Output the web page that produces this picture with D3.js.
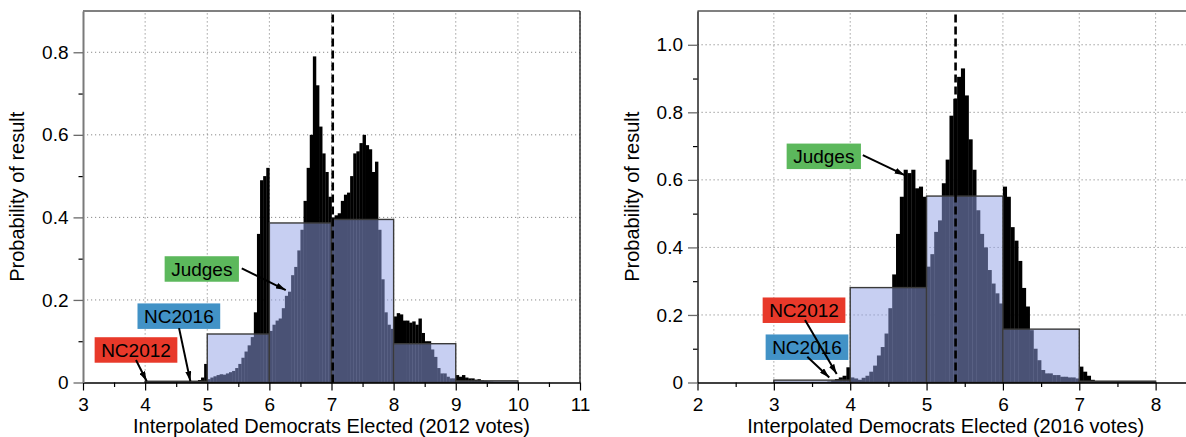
<!DOCTYPE html>
<html><head><meta charset="utf-8">
<script src="https://cdn.jsdelivr.net/npm/d3@7"></script>
<style>
body{margin:0;background:#fff;}
text{font-family:"Liberation Sans",Arial,Helvetica,sans-serif;}
</style></head><body>
<svg id="c" width="1186" height="437"></svg>
<script>
// ---------------- DATA ----------------
const binWidth = 0.05;

// Left panel (2012 votes)
const leftFineStart = 4.80;
const leftFine = [
  0.003,0.006,0.012,0.045,
  0.008,0.012,0.015,0.018,0.020,0.019,0.022,0.025,0.028,0.035,
  0.045,0.060,0.075,0.090,0.110,0.170,0.360,0.490,0.500,0.520,
  0.125,0.140,0.150,0.155,0.180,0.210,0.220,0.260,0.280,0.320,
  0.370,0.440,0.520,0.600,0.790,0.720,0.620,0.555,0.510,0.450,
  0.400,0.405,0.410,0.440,0.455,0.460,0.500,0.555,0.560,0.580,
  0.600,0.575,0.565,0.510,0.535,0.370,0.250,0.170,0.140,0.130,
  0.160,0.168,0.165,0.150,0.150,0.145,0.148,0.140,0.155,0.120,
  0.100,0.100,0.080,0.062,0.035,0.022,0.022,0.014,0.010,0.010,
  0.018,0.014,0.018,0.012,0.010,0.010,0.007,0.008,0.005,0.004,
  0.003,0.002
];
const leftBins = [4,5,6,7,8,9];
const leftCoarse = [0.003,0.1175,0.3865,0.395,0.094,0.004];
const leftMean = 7.02;
const leftXTicks = [3,4,5,6,7,8,9,10,11];
const leftYTicks = [0,0.2,0.4,0.6,0.8];
const leftXTitle = "Interpolated Democrats Elected (2012 votes)";

// Right panel (2016 votes)
const rightFineStart = 3.70;
const rightFine = [
  0.003,0.006,0.010,0.015,0.020,0.045,
  0.015,0.012,0.008,0.014,0.020,0.032,0.050,0.080,0.105,0.145,
  0.220,0.320,0.440,0.550,0.630,0.620,0.630,0.575,0.580,0.550,
  0.343,0.380,0.446,0.480,0.590,0.660,0.790,0.840,0.905,0.930,
  0.850,0.720,0.630,0.510,0.440,0.400,0.333,0.293,0.264,0.234,
  0.580,0.550,0.460,0.420,0.360,0.280,0.225,0.155,0.100,0.066,
  0.037,0.027,0.027,0.022,0.022,0.017,0.017,0.015,0.015,0.012,
  0.047,0.032,0.020,0.008,0.004,0.003,0.002,0.002,0.002
];
const rightBins = [3,4,5,6,7];
const rightCoarse = [0.007,0.281,0.552,0.158,0.004];
const rightMean = 5.38;
const rightXTicks = [2,3,4,5,6,7,8];
const rightYTicks = [0,0.2,0.4,0.6,0.8,1.0];
const rightXTitle = "Interpolated Democrats Elected (2016 votes)";

const yTitle = "Probability of result";

// annotations: label, box centre (data), arrow tail offset from box centre (px), target (data)
const leftNotes = [
  {label:"Judges", color:"#5cb85c", cx:4.912, cy:0.275, tx:40, ty:-0.6, px:6.264, py:0.224},
  {label:"NC2016", color:"#4292c6", cx:4.543, cy:0.1607, tx:0.2, ty:12, px:4.728, py:0.003},
  {label:"NC2012", color:"#e8392a", cx:3.853, cy:0.0788, tx:0, ty:10, px:4.025, py:0.003}
];
const rightNotes = [
  {label:"Judges", color:"#5cb85c", cx:3.654, cy:0.6697, tx:39, ty:-1.2, px:4.714, py:0.614},
  {label:"NC2016", color:"#4292c6", cx:3.434, cy:0.1045, tx:0.3, ty:9.5, px:3.726, py:0.015},
  {label:"NC2012", color:"#e8392a", cx:3.395, cy:0.214, tx:1, ty:9.8, px:3.823, py:0.025}
];

// ---------------- DRAW ----------------
const svg = d3.select("#c");
const defs = svg.append("defs");
defs.append("marker").attr("id","ah").attr("viewBox","0 0 10 6")
  .attr("refX",10).attr("refY",3).attr("markerWidth",10).attr("markerHeight",6)
  .attr("markerUnits","userSpaceOnUse").attr("orient","auto")
  .append("path").attr("d","M0,0L10,3L0,6Z").attr("fill","#000");

const FONT = 19;

function panel(cfg){
  const g = svg.append("g");
  const x = d3.scaleLinear().domain(cfg.xDomain).range(cfg.xRange);
  const y = d3.scaleLinear().domain([0,cfg.yMax]).range([382.5, 11]);
  const [X0,X1] = cfg.xRange;
  const Y0 = y(0), Y1 = y(cfg.yMax);

  // grid
  const grid = g.append("g").attr("stroke","#8a8a8a").attr("stroke-width",1).attr("stroke-dasharray","1.2,2.8");
  cfg.xTicks.filter(t=>t>cfg.xDomain[0]).forEach(t=>{
    grid.append("line").attr("x1",x(t)).attr("x2",x(t)).attr("y1",Y0).attr("y2",Y1);
  });
  cfg.yTicks.filter(t=>t>0).forEach(t=>{
    grid.append("line").attr("x1",X0).attr("x2",X1).attr("y1",y(t)).attr("y2",y(t));
  });

  // fine histogram (black)
  const fine = cfg.fine.map((v,i)=>({x0: cfg.fineStart + i*binWidth, v}));
  g.append("g").selectAll("rect").data(fine).join("rect")
    .attr("x", d=>x(d.x0)).attr("width", d=>x(d.x0+binWidth)-x(d.x0)+0.3)
    .attr("y", d=>y(d.v)).attr("height", d=>Y0-y(d.v))
    .attr("fill","#000");

  // coarse histogram (translucent light blue)
  const coarse = cfg.bins.map((b,i)=>({x0:b, v:cfg.coarse[i]}));
  g.append("g").selectAll("rect").data(coarse).join("rect")
    .attr("x", d=>x(d.x0)).attr("width", d=>x(d.x0+1)-x(d.x0))
    .attr("y", d=>y(d.v)).attr("height", d=>Y0-y(d.v))
    .attr("fill","rgb(145,161,229)").attr("fill-opacity",0.51)
    .attr("stroke","#3a3a3a").attr("stroke-width",1.4);

  // mean dashed line
  g.append("line").attr("x1",x(cfg.mean)).attr("x2",x(cfg.mean)).attr("y1",Y0).attr("y2",Y1)
    .attr("stroke","#000").attr("stroke-width",2.6).attr("stroke-dasharray","8,4");

  // frame
  g.append("line").attr("x1",X0).attr("x2",X1).attr("y1",Y1).attr("y2",Y1)
    .attr("stroke","#808080").attr("stroke-width",2);
  if (cfg.rightBorder){
    g.append("line").attr("x1",X1).attr("x2",X1).attr("y1",Y1).attr("y2",Y0)
      .attr("stroke","#000").attr("stroke-width",1.2);
  }

  // x axis
  const minorX = d3.range(cfg.xDomain[0]+0.5, cfg.xDomain[1], 1);
  const xMinor = g.append("g").attr("transform",`translate(0,${Y0})`)
    .call(d3.axisBottom(x).tickValues(minorX).tickSize(4.5).tickSizeOuter(0).tickFormat(""));
  xMinor.select(".domain").remove();
  xMinor.selectAll("line").attr("stroke","#000").attr("stroke-width",1.2);
  const xAx = g.append("g").attr("transform",`translate(0,${Y0})`)
    .call(d3.axisBottom(x).tickValues(cfg.xTicks).tickSize(8).tickSizeOuter(0).tickPadding(7).tickFormat(d3.format("d")));
  xAx.select(".domain").attr("stroke","#000").attr("stroke-width",1.5);
  xAx.selectAll("line").attr("stroke","#000").attr("stroke-width",1.2);
  xAx.selectAll("text").attr("font-size",FONT).attr("fill","#000")
     .attr("font-family",'"Liberation Sans",Arial,Helvetica,sans-serif');

  // y axis
  const minorY = cfg.yTicks.slice(0,-1).map((t,i)=>(t+cfg.yTicks[i+1])/2);
  const yMinor = g.append("g").attr("transform",`translate(${X0},0)`)
    .call(d3.axisLeft(y).tickValues(minorY).tickSize(4.5).tickSizeOuter(0).tickFormat(""));
  yMinor.select(".domain").remove();
  yMinor.selectAll("line").attr("stroke","#000").attr("stroke-width",1.2);
  const yAx = g.append("g").attr("transform",`translate(${X0},0)`)
    .call(d3.axisLeft(y).tickValues(cfg.yTicks).tickSize(9.5).tickSizeOuter(0).tickPadding(5)
      .tickFormat(d=> d===0 ? "0" : d3.format(".1f")(d)));
  yAx.select(".domain").attr("stroke",cfg.yAxisColor).attr("stroke-width",cfg.yAxisWidth);
  yAx.selectAll("line").attr("stroke","#6a6a6a").attr("stroke-width",1.3);
  yAx.selectAll("text").attr("font-size",FONT).attr("fill","#000")
     .attr("font-family",'"Liberation Sans",Arial,Helvetica,sans-serif');

  // titles
  g.append("text").attr("x",(X0+X1)/2).attr("y",433).attr("text-anchor","middle")
    .attr("font-size",20).attr("fill","#000").text(cfg.xTitle);
  g.append("text").attr("transform",`translate(${X0-59},${(Y0+Y1)/2}) rotate(-90)`)
    .attr("text-anchor","middle").attr("font-size",20).attr("fill","#000").text(yTitle);

  // annotations: boxes first, arrows on top
  const ann = g.append("g");
  cfg.notes.forEach(n=>{
    const cx = x(n.cx), cy = y(n.cy);
    const t = ann.append("text").attr("x",cx).attr("y",cy).attr("dy","0.35em")
      .attr("text-anchor","middle").attr("font-size",FONT).attr("fill","#000").text(n.label);
    const bb = t.node().getBBox();
    const w = bb.width + 13, h = 25.5;
    ann.insert("rect", function(){ return t.node(); })
      .attr("x",cx-w/2).attr("y",cy-h/2).attr("width",w).attr("height",h).attr("fill",n.color);
  });
  cfg.notes.forEach(n=>{
    const cx = x(n.cx), cy = y(n.cy);
    ann.append("line").attr("x1",cx+n.tx).attr("y1",cy+n.ty)
      .attr("x2",x(n.px)).attr("y2",y(n.py))
      .attr("stroke","#000").attr("stroke-width",2).attr("marker-end","url(#ah)");
  });
}

panel({xDomain:[3,11], xRange:[83,580], yMax:0.9, fine:leftFine, fineStart:leftFineStart,
  bins:leftBins, coarse:leftCoarse, mean:leftMean, xTicks:leftXTicks, yTicks:leftYTicks,
  xTitle:leftXTitle, notes:leftNotes, rightBorder:true, yAxisColor:"#7a7a7a", yAxisWidth:2});
panel({xDomain:[2,8.5], xRange:[697.5,1193.8], yMax:1.1, fine:rightFine, fineStart:rightFineStart,
  bins:rightBins, coarse:rightCoarse, mean:rightMean, xTicks:rightXTicks, yTicks:rightYTicks,
  xTitle:rightXTitle, notes:rightNotes, rightBorder:false, yAxisColor:"#000", yAxisWidth:1.3});
</script>
</body></html>
